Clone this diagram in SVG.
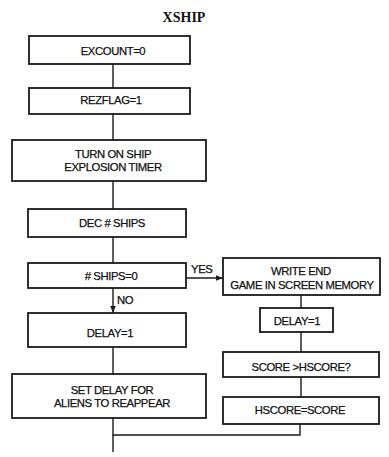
<svg xmlns="http://www.w3.org/2000/svg" width="389" height="457" viewBox="0 0 389 457">
<style>
.box{fill:#fff;stroke:#1a1a1a;stroke-width:1.8}
.t{font-family:"Liberation Sans",Arial,sans-serif;font-size:11.3px;fill:#111;stroke:#111;stroke-width:0.25;text-anchor:middle;letter-spacing:-0.4px}
.l{font-family:"Liberation Sans",Arial,sans-serif;font-size:11.3px;fill:#111;stroke:#111;stroke-width:0.25;letter-spacing:-0.4px}
.c{fill:none;stroke:#1a1a1a;stroke-width:1.4}
</style>
<defs>
<marker id="ah" viewBox="0 0 10 10" refX="10" refY="5" markerWidth="7" markerHeight="7" markerUnits="userSpaceOnUse" orient="auto">
<path d="M0,1 L10,5 L0,9 z" fill="#1a1a1a"/>
</marker>
</defs>
<rect width="389" height="457" fill="#fff"/>
<text x="184" y="22" font-family="'Liberation Serif','Times New Roman',serif" font-size="14" font-weight="bold" text-anchor="middle" fill="#111">XSHIP</text>
<g id="connectors">
<line class="c" x1="113" y1="64" x2="113" y2="88"/>
<line class="c" x1="113" y1="114" x2="113" y2="140"/>
<line class="c" x1="113" y1="181" x2="113" y2="209"/>
<line class="c" x1="113" y1="237" x2="113" y2="263"/>
<line class="c" x1="113" y1="288" x2="113" y2="313" marker-end="url(#ah)"/>
<line class="c" x1="186" y1="278" x2="223" y2="278" marker-end="url(#ah)"/>
<line class="c" x1="301" y1="295" x2="301" y2="308"/>
<line class="c" x1="301" y1="332" x2="301" y2="352"/>
<line class="c" x1="301" y1="377" x2="301" y2="397"/>
<line class="c" x1="113" y1="347" x2="113" y2="374"/>
<polyline class="c" points="113,418 113,435 300,435 300,424"/>
<line class="c" x1="113" y1="435" x2="113" y2="452"/>
<text class="l" x="191" y="273">YES</text>
<text class="l" x="117" y="304">NO</text>
</g>
<g id="excount"><rect class="box" x="29" y="36" width="161" height="28"/><text class="t" x="113" y="55">EXCOUNT=0</text></g>
<g id="rezflag"><rect class="box" x="29" y="88" width="161" height="26"/><text class="t" x="111" y="104">REZFLAG=1</text></g>
<g id="timer"><rect class="box" x="12" y="140" width="194" height="41"/><text class="t" x="113" y="158">TURN ON SHIP</text><text class="t" x="113" y="171">EXPLOSION TIMER</text></g>
<g id="decships"><rect class="box" x="28" y="209" width="158" height="28"/><text class="t" x="112" y="227">DEC # SHIPS</text></g>
<g id="ships0"><rect class="box" x="28" y="263" width="158" height="25"/><text class="t" x="111" y="280">#  SHIPS=0</text></g>
<g id="writeend"><rect class="box" x="223" y="258" width="157" height="37"/><text class="t" x="301" y="275">WRITE END</text><text class="t" x="302" y="289">GAME IN SCREEN MEMORY</text></g>
<g id="delay1r"><rect class="box" x="260" y="308" width="73" height="24"/><text class="t" x="297" y="325">DELAY=1</text></g>
<g id="scorecmp"><rect class="box" x="223" y="352" width="156" height="25"/><text class="t" x="301" y="371">SCORE &gt;HSCORE?</text></g>
<g id="hscore"><rect class="box" x="223" y="397" width="156" height="27"/><text class="t" x="300" y="414">HSCORE=SCORE</text></g>
<g id="delay1l"><rect class="box" x="28" y="313" width="158" height="34"/><text class="t" x="110" y="337">DELAY=1</text></g>
<g id="setdelay"><rect class="box" x="12" y="374" width="194" height="44"/><text class="t" x="112" y="394">SET DELAY FOR</text><text class="t" x="112" y="407">ALIENS TO REAPPEAR</text></g>
</svg>
